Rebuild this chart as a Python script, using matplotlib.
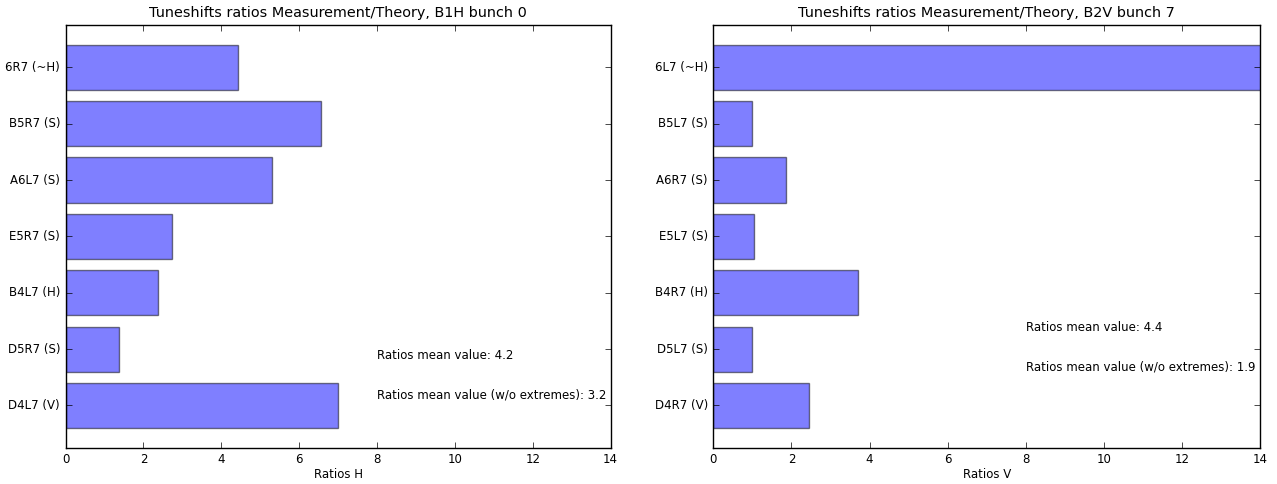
import matplotlib
matplotlib.use('Agg')
from matplotlib import pyplot as plt

plt.style.use('classic')

# B1H bunch 0, horizontal tuneshift ratios
labels_h = ['D4L7 (V)', 'D5R7 (S)', 'B4L7 (H)', 'E5R7 (S)', 'A6L7 (S)', 'B5R7 (S)', '6R7 (~H)']
ratios_h = [7.0, 1.36, 2.37, 2.73, 5.30, 6.56, 4.43]
mean_h = 4.2
mean_h_noext = 3.2

# B2V bunch 7, vertical tuneshift ratios
labels_v = ['D4R7 (V)', 'D5L7 (S)', 'B4R7 (H)', 'E5L7 (S)', 'A6R7 (S)', 'B5L7 (S)', '6L7 (~H)']
ratios_v = [2.44, 1.0, 3.70, 1.05, 1.85, 0.98, 19.8]
mean_v = 4.4
mean_v_noext = 1.9

fs = 8.5
fig = plt.figure(figsize=(12.77, 4.84), dpi=100, facecolor='white')
ax1 = fig.add_axes([0.0514, 0.075, 0.4268, 0.8733])
ax2 = fig.add_axes([0.5586, 0.075, 0.4281, 0.8733])


def draw(ax, labels, ratios, title, xlabel, m, m2, ym, ym2):
    pos = range(len(ratios))
    ax.barh(pos, ratios, height=0.8, align='center', color='blue', alpha=0.5, edgecolor='black')
    ax.set_yticks(list(pos))
    ax.set_yticklabels(labels, fontsize=fs)
    ax.set_xlim(0, 14)
    ax.set_ylim(-0.75, len(ratios) - 0.25)
    ax.set_xticks(range(0, 15, 2))
    ax.tick_params(labelsize=fs, direction='in', length=4, top=True, right=True)
    ax.set_title(title, fontsize=10.35, pad=5.5)
    ax.set_xlabel(xlabel, fontsize=fs, labelpad=1.5)
    ax.text(8, ym, f'Ratios mean value: {m}', fontsize=fs, va='top')
    ax.text(8, ym2, f'Ratios mean value (w/o extremes): {m2}', fontsize=fs, va='top')


draw(ax1, labels_h, ratios_h, 'Tuneshifts ratios Measurement/Theory, B1H bunch 0', 'Ratios H',
     mean_h, mean_h_noext, 1.0, 0.3)
draw(ax2, labels_v, ratios_v, 'Tuneshifts ratios Measurement/Theory, B2V bunch 7', 'Ratios V',
     mean_v, mean_v_noext, 1.5, 0.8)

fig.savefig('out.png', dpi=100, facecolor='white')
